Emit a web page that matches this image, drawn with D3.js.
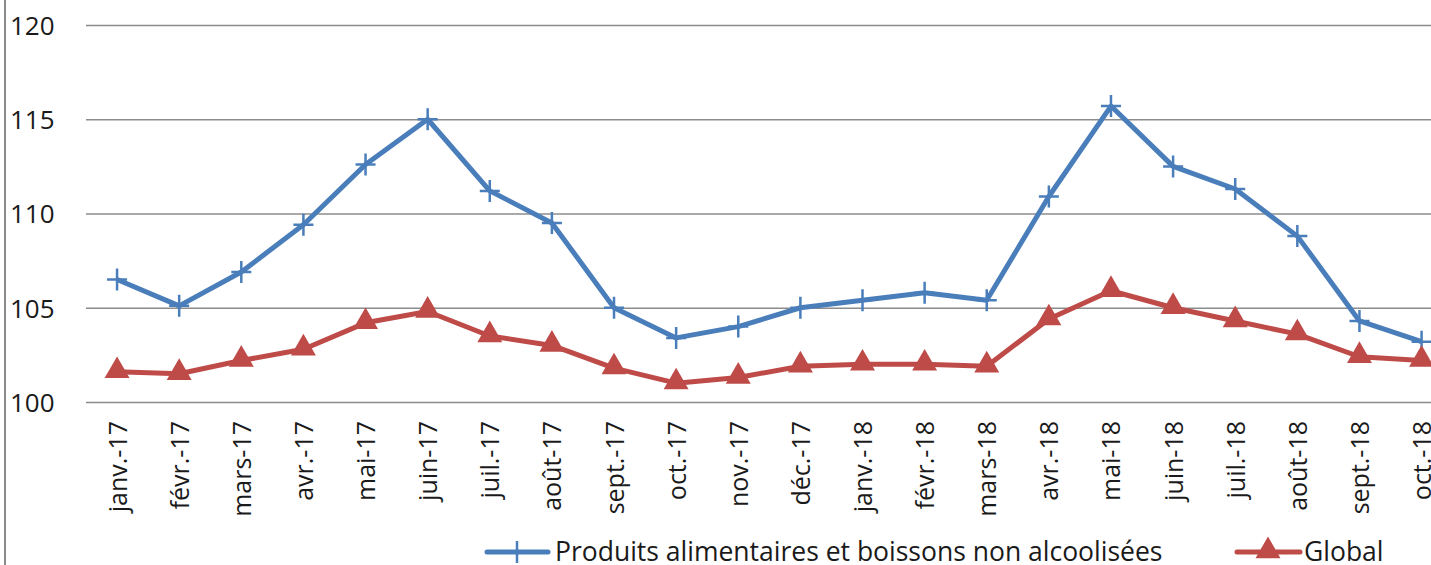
<!DOCTYPE html>
<html>
<head>
<meta charset="utf-8">
<script src="https://cdn.jsdelivr.net/npm/d3@7"></script>
<style>
  body { margin: 0; background: #fff; }
  text { font-family: "Open Sans", sans-serif; fill: #1a1a1a; }
</style>
</head>
<body>
<div id="chart"></div>
<script>
// Data
const months = [
  'janv.-17', 'févr.-17', 'mars-17', 'avr.-17', 'mai-17', 'juin-17', 'juil.-17', 'août-17',
  'sept.-17', 'oct.-17', 'nov.-17', 'déc.-17', 'janv.-18', 'févr.-18', 'mars-18', 'avr.-18',
  'mai-18', 'juin-18', 'juil.-18', 'août-18', 'sept.-18', 'oct.-18'
];
const foodValues = [
  106.5, 105.1, 106.9, 109.4, 112.6, 115.0, 111.2, 109.5, 105.0, 103.4, 104.0,
  105.0, 105.4, 105.8, 105.4, 110.9, 115.7, 112.5, 111.3, 108.8, 104.3, 103.2
];
const globalValues = [
  101.6, 101.5, 102.2, 102.8, 104.2, 104.8, 103.5, 103.0, 101.8, 101.0, 101.3,
  101.9, 102.0, 102.0, 101.9, 104.4, 105.9, 105.0, 104.3, 103.6, 102.4, 102.2
];
const yTicks = [100, 105, 110, 115, 120];
const seriesNames = ['Produits alimentaires et boissons non alcoolisées', 'Global'];

// Dimensions
const dimensions = {
  width: 1431,
  height: 565,
  plotLeft: 86,
  bandWidth: 62.12,
  plotTop: 25,
  plotBottom: 402,
};

const blue = '#4a7ebb';
const red = '#be4b48';
const grid = '#8c8c8c';

const svg = d3
  .select('#chart')
  .append('svg')
  .attr('width', dimensions.width)
  .attr('height', dimensions.height);

// Scales
const xScale = d3
  .scalePoint()
  .domain(months)
  .range([dimensions.plotLeft, dimensions.plotLeft + dimensions.bandWidth * months.length])
  .padding(0.5);

const yScale = d3
  .scaleLinear()
  .domain([100, 120])
  .range([dimensions.plotBottom, dimensions.plotTop]);

// Left border
svg.append('line')
  .attr('x1', 5).attr('x2', 5)
  .attr('y1', 0).attr('y2', dimensions.height)
  .attr('stroke', '#8a8a8a')
  .attr('stroke-width', 2);

// Gridlines + y labels
const yAxis = d3
  .axisLeft(yScale)
  .tickValues(yTicks)
  .tickSize(-(dimensions.width - dimensions.plotLeft))
  .tickPadding(0);

const yAxisGroup = svg.append('g')
  .attr('transform', `translate(${dimensions.plotLeft},0)`)
  .call(yAxis);

yAxisGroup.select('.domain').remove();
yAxisGroup.selectAll('.tick line')
  .attr('stroke', grid)
  .attr('stroke-width', 1.5);
yAxisGroup.selectAll('.tick text')
  .attr('x', 10 - dimensions.plotLeft)
  .attr('dy', '0.36em')
  .attr('text-anchor', 'start')
  .style('font-size', '26px')
  .style('font-family', '"Open Sans", sans-serif')
  .attr('fill', '#111');

// X labels
const xAxis = d3.axisBottom(xScale).tickSize(0).tickPadding(0);
const xAxisGroup = svg.append('g')
  .attr('transform', `translate(0,${dimensions.plotBottom})`)
  .call(xAxis);
xAxisGroup.select('.domain').remove();
xAxisGroup.selectAll('.tick text')
  .attr('transform', 'rotate(-90)')
  .attr('x', -19)
  .attr('y', 0)
  .attr('dy', '0.36em')
  .attr('text-anchor', 'end')
  .style('font-size', '25px')
  .style('font-family', '"Open Sans", sans-serif')
  .attr('fill', '#111');

// Lines
const line = d3.line()
  .x((d, i) => xScale(months[i]))
  .y(d => yScale(d));

svg.append('path')
  .datum(foodValues)
  .attr('d', line)
  .attr('fill', 'none')
  .attr('stroke', blue)
  .attr('stroke-width', 5)
  .attr('stroke-linejoin', 'round');

svg.append('path')
  .datum(globalValues)
  .attr('d', line)
  .attr('fill', 'none')
  .attr('stroke', red)
  .attr('stroke-width', 5)
  .attr('stroke-linejoin', 'round');

// Markers
const plusPath = 'M-10,0H10M0,-11V11';
const triangle = d3.symbol().type(d3.symbolTriangle).size(270);

svg.append('g')
  .selectAll('path')
  .data(foodValues)
  .join('path')
  .attr('transform', (d, i) => `translate(${xScale(months[i])},${yScale(d)})`)
  .attr('d', plusPath)
  .attr('stroke', blue)
  .attr('stroke-width', 2.5)
  .attr('fill', 'none');

svg.append('g')
  .selectAll('path')
  .data(globalValues)
  .join('path')
  .attr('transform', (d, i) => `translate(${xScale(months[i])},${yScale(d) - 1})`)
  .attr('d', triangle)
  .attr('fill', red);

// Legend
const legend = svg.append('g');
const legendY = 552;

legend.append('line')
  .attr('x1', 487).attr('x2', 548)
  .attr('y1', legendY).attr('y2', legendY)
  .attr('stroke', blue).attr('stroke-width', 5)
  .attr('stroke-linecap', 'round');
legend.append('path')
  .attr('transform', `translate(517,${legendY})`)
  .attr('d', plusPath)
  .attr('stroke', blue).attr('stroke-width', 2.5);
legend.append('text')
  .attr('x', 555).attr('y', 561)
  .style('font-size', '26.5px')
  .text(seriesNames[0]);

legend.append('line')
  .attr('x1', 1237).attr('x2', 1300)
  .attr('y1', legendY).attr('y2', legendY)
  .attr('stroke', red).attr('stroke-width', 5)
  .attr('stroke-linecap', 'round');
legend.append('path')
  .attr('transform', `translate(1268,${legendY - 1})`)
  .attr('d', triangle)
  .attr('fill', red);
legend.append('text')
  .attr('x', 1304).attr('y', 561)
  .style('font-size', '26.5px')
  .text(seriesNames[1]);
</script>
</body>
</html>
